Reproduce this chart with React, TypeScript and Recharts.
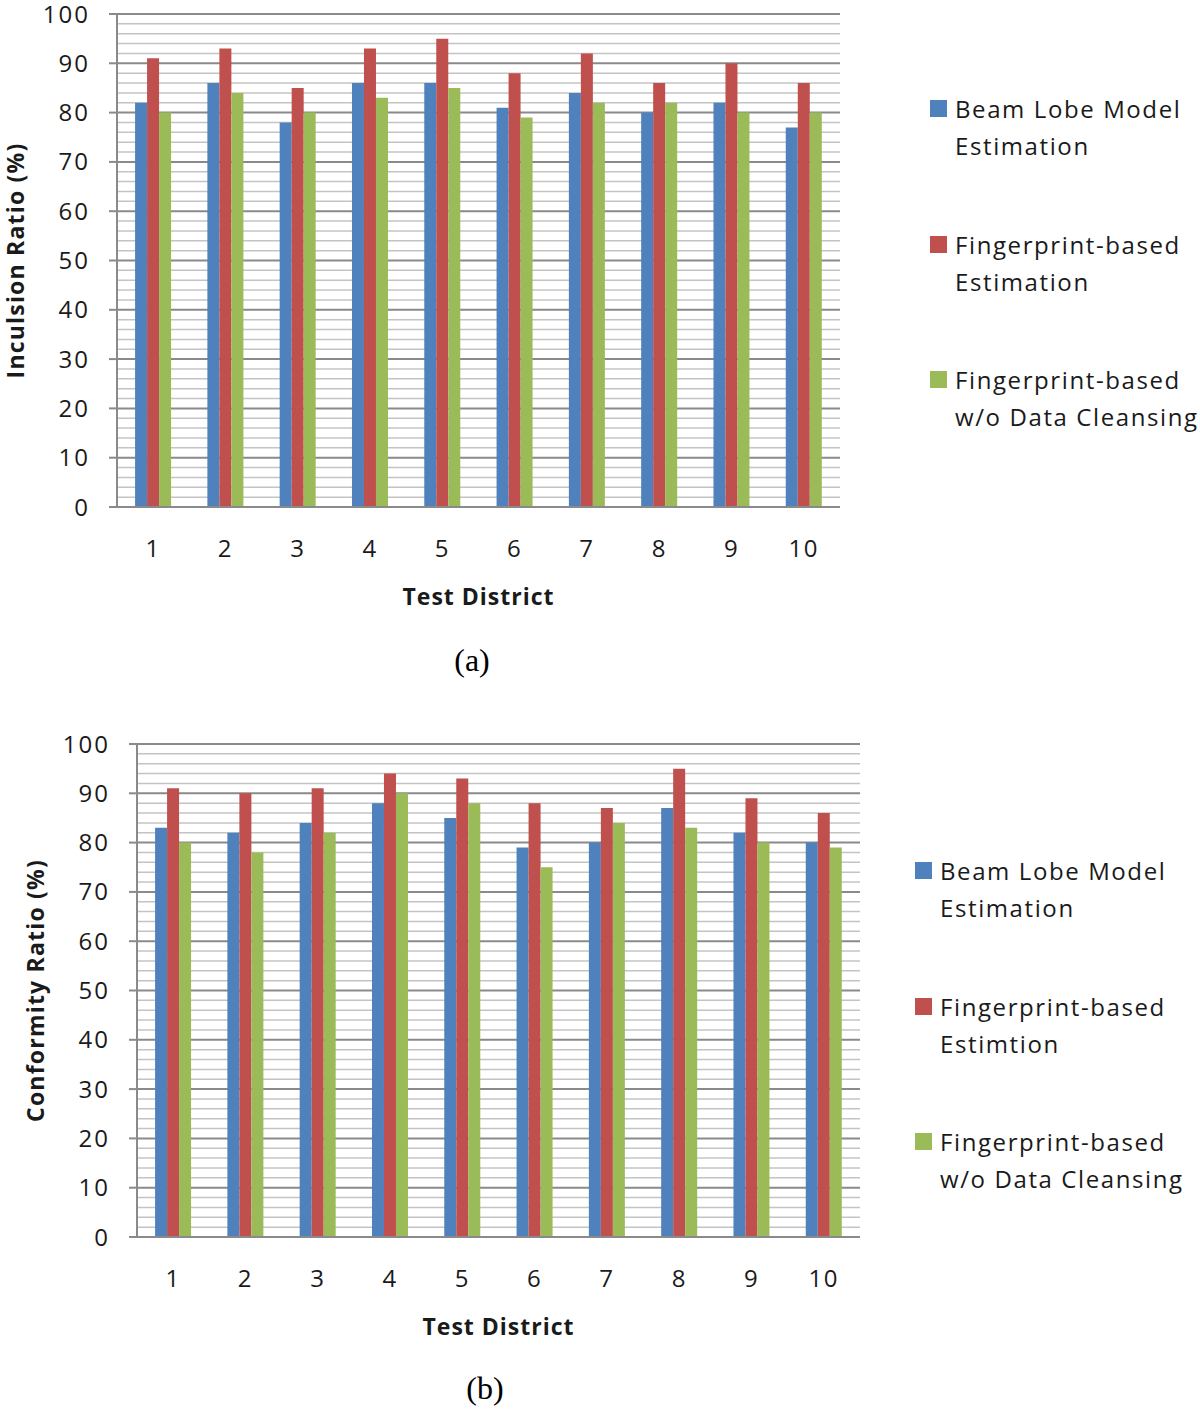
import React from 'react';
import { BarChart, Bar, XAxis, YAxis, CartesianGrid, Label } from 'recharts';

const districts = ['1', '2', '3', '4', '5', '6', '7', '8', '9', '10'];

// (a) inclusion ratio
const inclusionBeam = [82, 86, 78, 86, 86, 81, 84, 80, 82, 77];
const inclusionFp = [91, 93, 85, 93, 95, 88, 92, 86, 90, 86];
const inclusionRaw = [80, 84, 80, 83, 85, 79, 82, 82, 80, 80];

// (b) conformity ratio
const conformityBeam = [83, 82, 84, 88, 85, 79, 80, 87, 82, 80];
const conformityFp = [91, 90, 91, 94, 93, 88, 87, 95, 89, 86];
const conformityRaw = [80, 78, 82, 90, 88, 75, 84, 83, 80, 79];

const yTicks = [0, 10, 20, 30, 40, 50, 60, 70, 80, 90, 100];
const minorTicks = Array.from({ length: 51 }, (_, i) => i * 2).filter((v) => v % 10 !== 0);

const legendA = [
  ['Beam Lobe Model', 'Estimation'],
  ['Fingerprint-based', 'Estimation'],
  ['Fingerprint-based', 'w/o Data Cleansing'],
];
const legendB = [
  ['Beam Lobe Model', 'Estimation'],
  ['Fingerprint-based', 'Estimtion'],
  ['Fingerprint-based', 'w/o Data Cleansing'],
];

const COLORS = ['#4F81BD', '#C0504D', '#9BBB59'];
const FONT = '"Open Sans", sans-serif';
const TEXT = '#1a1a1a';
const MAJOR = '#8a8a8a';
const MINOR = '#c4c4c4';
const PAD = 20; // extra room above the plot so the top tick label stays inside the svg

const buildRows = (a: number[], b: number[], c: number[]) =>
  districts.map((d, i) => ({ district: d, beam: a[i], fp: b[i], raw: c[i] }));

const YTitle = (props: any) => {
  const vb = props.viewBox || { x: 0, y: 14 + PAD, width: 117, height: 493 };
  const cx = vb.x + 15;
  const cy = vb.y + vb.height / 2;
  return (
    <text
      x={cx}
      y={cy}
      transform={`rotate(-90 ${cx} ${cy})`}
      textAnchor="middle"
      dominantBaseline="central"
      fontFamily={FONT}
      fontSize={23}
      fontWeight={700}
      letterSpacing={1.2}
      fill={TEXT}
    >
      {props.value}
    </text>
  );
};

type ChartProps = {
  left: number;
  top: number;
  rows: any[];
  yTitle: string;
  legend: string[][];
  legendLeft: number;
  legendTop: number;
  caption: string;
  captionX: number;
  captionY: number;
};

const DistrictChart: React.FC<ChartProps> = ({
  left, top, rows, yTitle, legend, legendLeft, legendTop, caption, captionX, captionY,
}) => (
  <>
    <div style={{ position: 'absolute', left, top: top - PAD }}>
      <BarChart
        width={860}
        height={620 + PAD}
        data={rows}
        margin={{ top: 14 + PAD, right: 20, bottom: 0, left: 0 }}
        barCategoryGap="25%"
        barGap={0}
      >
        <CartesianGrid vertical={false} horizontalValues={minorTicks} stroke={MINOR} strokeWidth={1.5} />
        <CartesianGrid vertical={false} horizontalValues={yTicks} stroke={MAJOR} strokeWidth={2} />
        <XAxis
          dataKey="district"
          height={113}
          tickLine={false}
          tickSize={0}
          tickMargin={33}
          axisLine={{ stroke: MAJOR, strokeWidth: 2 }}
          tick={{ fontSize: 24, fill: TEXT, fontFamily: FONT, letterSpacing: 1.5 }}
        >
          <Label
            value="Test District"
            position="insideBottom"
            offset={15}
            style={{ fontFamily: FONT, fontSize: 23, fontWeight: 700, fill: TEXT, letterSpacing: 1 }}
          />
        </XAxis>
        <YAxis
          width={117}
          domain={[0, 100]}
          ticks={yTicks}
          interval={0}
          tickSize={8}
          tickMargin={19}
          axisLine={{ stroke: MAJOR, strokeWidth: 2 }}
          tickLine={{ stroke: MAJOR, strokeWidth: 2 }}
          tick={{ fontSize: 24, fill: TEXT, fontFamily: FONT, letterSpacing: 2 }}
        >
          <Label value={yTitle} content={<YTitle />} />
        </YAxis>
        <Bar dataKey="beam" fill={COLORS[0]} isAnimationActive={false} />
        <Bar dataKey="fp" fill={COLORS[1]} isAnimationActive={false} />
        <Bar dataKey="raw" fill={COLORS[2]} isAnimationActive={false} />
      </BarChart>
    </div>
    {legend.map((lines, i) => (
      <div
        key={i}
        style={{
          position: 'absolute',
          left: legendLeft,
          top: legendTop + i * 135.5,
          fontFamily: FONT,
          fontSize: 24,
          letterSpacing: 1.6,
          color: TEXT,
          lineHeight: '37px',
        }}
      >
        <div
          style={{
            position: 'absolute',
            left: 0,
            top: 10,
            width: 17,
            height: 17,
            background: COLORS[i],
          }}
        />
        <div style={{ position: 'absolute', left: 25, top: 0, whiteSpace: 'nowrap' }}>
          {lines[0]}
          <br />
          {lines[1]}
        </div>
      </div>
    ))}
    <div
      style={{
        position: 'absolute',
        left: captionX - 50,
        top: captionY - 20,
        width: 100,
        textAlign: 'center',
        fontFamily: '"Liberation Serif", serif',
        fontSize: 32,
        lineHeight: '40px',
        color: '#000',
      }}
    >
      {caption}
    </div>
  </>
);

const App: React.FC = () => (
  <div style={{ position: 'absolute', left: 0, top: 0, width: 1200, height: 1409, background: '#fff', overflow: 'hidden' }}>
    <DistrictChart
      left={0}
      top={0}
      rows={buildRows(inclusionBeam, inclusionFp, inclusionRaw)}
      yTitle="Inculsion Ratio (%)"
      legend={legendA}
      legendLeft={930}
      legendTop={90}
      caption="(a)"
      captionX={472}
      captionY={660}
    />
    <DistrictChart
      left={20}
      top={730}
      rows={buildRows(conformityBeam, conformityFp, conformityRaw)}
      yTitle="Conformity Ratio (%)"
      legend={legendB}
      legendLeft={915}
      legendTop={852}
      caption="(b)"
      captionX={485}
      captionY={1388}
    />
  </div>
);

export default App;
